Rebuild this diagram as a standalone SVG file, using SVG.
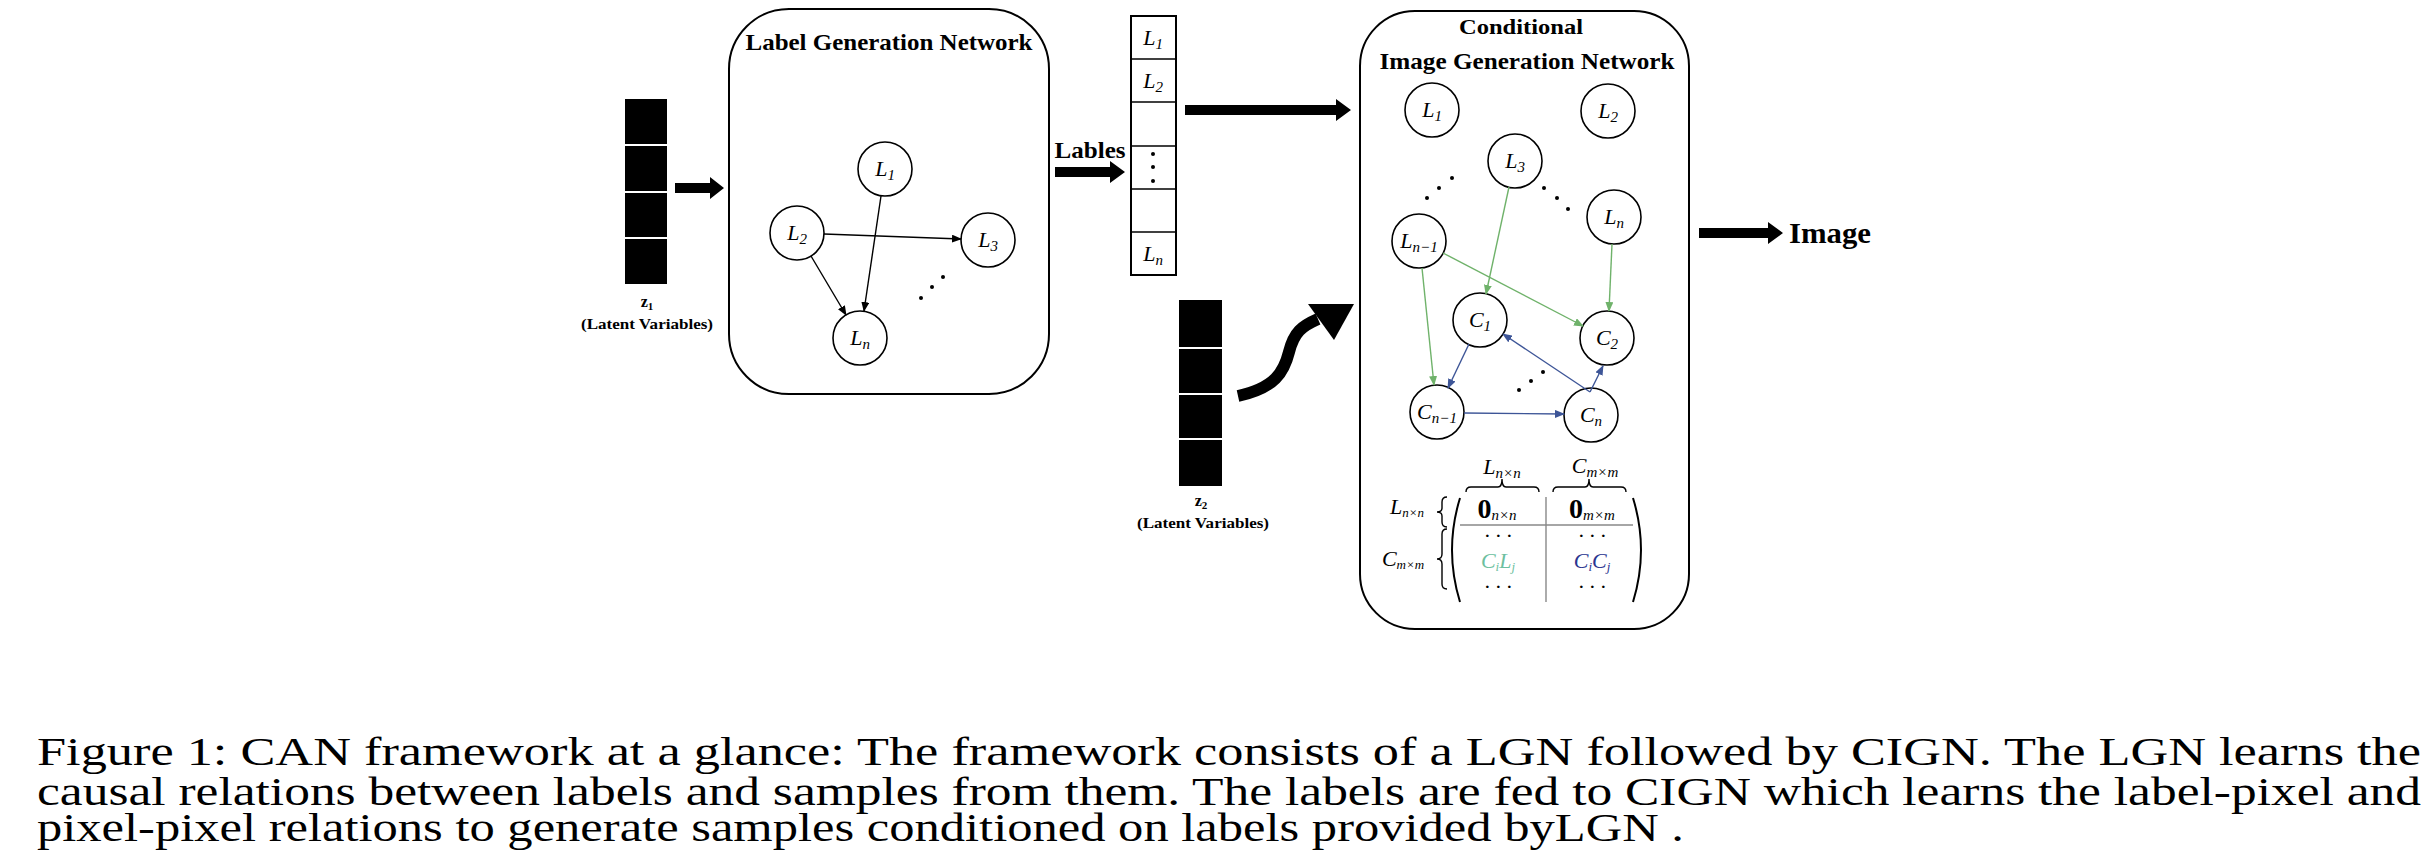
<svg xmlns="http://www.w3.org/2000/svg" width="2434" height="850" viewBox="0 0 2434 850">
<style>
.box{fill:none;stroke:#000;stroke-width:2}
.nd{fill:#fff;stroke:#000;stroke-width:1.6}
.m{font-family:"Liberation Serif",serif;font-style:italic;font-size:22px;text-anchor:middle}
.s{font-size:15px}
.t{font-family:"Liberation Serif",serif;font-weight:bold;text-anchor:middle}
.cap{font-family:"Liberation Serif",serif;font-size:40px}
.e{stroke:#000;stroke-width:1.4;fill:none;marker-end:url(#ab)}
.g{stroke:#6fb26a;stroke-width:1.4;fill:none;marker-end:url(#ag)}
.b{stroke:#3d5597;stroke-width:1.4;fill:none;marker-end:url(#abl)}
.dot{fill:#000}
</style>
<defs>
<marker id="ab" markerWidth="10" markerHeight="8" refX="9" refY="4" orient="auto" markerUnits="userSpaceOnUse"><path d="M0,0 L10,4 L0,8 z" fill="#000"/></marker>
<marker id="ag" markerWidth="10" markerHeight="8" refX="9" refY="4" orient="auto" markerUnits="userSpaceOnUse"><path d="M0,0 L10,4 L0,8 z" fill="#6fb26a"/></marker>
<marker id="abl" markerWidth="10" markerHeight="8" refX="9" refY="4" orient="auto" markerUnits="userSpaceOnUse"><path d="M0,0 L10,4 L0,8 z" fill="#3d5597"/></marker>
</defs>
<rect width="2434" height="850" fill="#fff"/>

<g id="z1">
<rect x="625" y="99" width="42" height="185" fill="#000"/>
<g stroke="#fff" stroke-width="2"><line x1="625" y1="145" x2="667" y2="145"/><line x1="625" y1="192" x2="667" y2="192"/><line x1="625" y1="238" x2="667" y2="238"/></g>
<text class="t" x="647" y="307" font-size="16">z<tspan font-size="11" dy="3">1</tspan></text>
<text class="t" x="647" y="329" font-size="15" textLength="132" lengthAdjust="spacingAndGlyphs">(Latent Variables)</text>
</g>

<g id="lgn">
<rect class="box" x="729" y="9" width="320" height="385" rx="60"/>
<text class="t" x="889" y="50" font-size="23" textLength="287" lengthAdjust="spacingAndGlyphs">Label Generation Network</text>
</g>
<g id="lgnL1"><circle class="nd" cx="885" cy="169" r="27"/><text class="m" x="885" y="176">L<tspan class="s" dy="4">1</tspan></text></g>
<g id="lgnL2"><circle class="nd" cx="797" cy="233" r="27"/><text class="m" x="797" y="240">L<tspan class="s" dy="4">2</tspan></text></g>
<g id="lgnL3"><circle class="nd" cx="988" cy="240" r="27"/><text class="m" x="988" y="247">L<tspan class="s" dy="4">3</tspan></text></g>
<g id="lgnLn"><circle class="nd" cx="860" cy="338" r="27"/><text class="m" x="860" y="345">L<tspan class="s" dy="4">n</tspan></text></g>
<g class="dot"><circle cx="943" cy="277" r="2"/><circle cx="932" cy="287" r="2"/><circle cx="921" cy="298" r="2"/></g>

<g id="labels">
<rect class="box" x="1131" y="16" width="45" height="259" stroke-width="1.6"/>
<g stroke="#000" stroke-width="1.6"><line x1="1131" y1="59" x2="1176" y2="59"/><line x1="1131" y1="102" x2="1176" y2="102"/><line x1="1131" y1="146" x2="1176" y2="146"/><line x1="1131" y1="189" x2="1176" y2="189"/><line x1="1131" y1="232" x2="1176" y2="232"/></g>
<text class="m" x="1153" y="45">L<tspan class="s" dy="4">1</tspan></text>
<text class="m" x="1153" y="88">L<tspan class="s" dy="4">2</tspan></text>
<text class="m" x="1153" y="261">L<tspan class="s" dy="4">n</tspan></text>
<g class="dot"><circle cx="1153" cy="154" r="2"/><circle cx="1153" cy="167" r="2"/><circle cx="1153" cy="181" r="2"/></g>
<text class="t" x="1090" y="158" font-size="23" textLength="71" lengthAdjust="spacingAndGlyphs">Lables</text>
</g>

<g id="z2">
<rect x="1179" y="300" width="43" height="186" fill="#000"/>
<g stroke="#fff" stroke-width="2"><line x1="1179" y1="348" x2="1222" y2="348"/><line x1="1179" y1="394" x2="1222" y2="394"/><line x1="1179" y1="439" x2="1222" y2="439"/></g>
<text class="t" x="1201" y="506" font-size="16">z<tspan font-size="11" dy="3">2</tspan></text>
<text class="t" x="1203" y="528" font-size="15" textLength="132" lengthAdjust="spacingAndGlyphs">(Latent Variables)</text>
</g>

<g id="cign">
<rect class="box" x="1360" y="11" width="329" height="618" rx="55"/>
<text class="t" x="1521" y="34" font-size="22" textLength="124" lengthAdjust="spacingAndGlyphs">Conditional</text>
<text class="t" x="1527" y="69" font-size="23" textLength="295" lengthAdjust="spacingAndGlyphs">Image Generation Network</text>
</g>
<g id="cL1"><circle class="nd" cx="1432" cy="110" r="27"/><text class="m" x="1432" y="117">L<tspan class="s" dy="4">1</tspan></text></g>
<g id="cL2"><circle class="nd" cx="1608" cy="111" r="27"/><text class="m" x="1608" y="118">L<tspan class="s" dy="4">2</tspan></text></g>
<g id="cL3"><circle class="nd" cx="1515" cy="161" r="27"/><text class="m" x="1515" y="168">L<tspan class="s" dy="4">3</tspan></text></g>
<g id="cLn"><circle class="nd" cx="1614" cy="217" r="27"/><text class="m" x="1614" y="224">L<tspan class="s" dy="4">n</tspan></text></g>
<g id="cLn1"><circle class="nd" cx="1419" cy="241" r="27"/><text class="m" x="1419" y="248" font-size="20">L<tspan class="s" dy="4">n−1</tspan></text></g>
<g id="cC1"><circle class="nd" cx="1480" cy="320" r="27"/><text class="m" x="1480" y="327">C<tspan class="s" dy="4">1</tspan></text></g>
<g id="cC2"><circle class="nd" cx="1607" cy="338" r="27"/><text class="m" x="1607" y="345">C<tspan class="s" dy="4">2</tspan></text></g>
<g id="cCn1"><circle class="nd" cx="1437" cy="412" r="27"/><text class="m" x="1437" y="419" font-size="20">C<tspan class="s" dy="4">n−1</tspan></text></g>
<g id="cCn"><circle class="nd" cx="1591" cy="415" r="27"/><text class="m" x="1591" y="422">C<tspan class="s" dy="4">n</tspan></text></g>
<g class="dot">
<circle cx="1427" cy="198" r="2"/><circle cx="1439" cy="188" r="2"/><circle cx="1452" cy="178" r="2"/>
<circle cx="1544" cy="188" r="2"/><circle cx="1557" cy="198" r="2"/><circle cx="1568" cy="209" r="2"/>
<circle cx="1519" cy="390" r="2"/><circle cx="1531" cy="381" r="2"/><circle cx="1543" cy="372" r="2"/>
</g>

<g id="matrix">
<text class="m" x="1502" y="474" font-size="20">L<tspan class="s" dy="4">n×n</tspan></text>
<text class="m" x="1595" y="473" font-size="20">C<tspan class="s" dy="4">m×m</tspan></text>
<path d="M1466,492 q0,-5 5,-5 h27 q4,0 4,-8 q0,8 4,8 h28 q5,0 5,5" fill="none" stroke="#000" stroke-width="1.4"/>
<path d="M1553,492 q0,-5 5,-5 h27 q4,0 4,-8 q0,8 4,8 h28 q5,0 5,5" fill="none" stroke="#000" stroke-width="1.4"/>
<text class="m" x="1407" y="514" font-size="18">L<tspan font-size="13" dy="3">n×n</tspan></text>
<text class="m" x="1403" y="566" font-size="19">C<tspan font-size="13" dy="3">m×m</tspan></text>
<path d="M1447,497 q-5,0 -5,5 v6 q0,4 -5,4 q5,0 5,4 v6 q0,5 5,5" fill="none" stroke="#000" stroke-width="1.4"/>
<path d="M1447,529 q-5,0 -5,5 v20 q0,5 -5,5 q5,0 5,5 v20 q0,5 5,5" fill="none" stroke="#000" stroke-width="1.4"/>
<path d="M1460,498 q-16,52 0,104" fill="none" stroke="#000" stroke-width="2"/>
<path d="M1633,498 q16,52 0,104" fill="none" stroke="#000" stroke-width="2"/>
<line x1="1460" y1="525" x2="1633" y2="525" stroke="#888" stroke-width="1.4"/>
<line x1="1546" y1="497" x2="1546" y2="602" stroke="#888" stroke-width="1.4"/>
<text x="1497" y="518" font-family="Liberation Serif,serif" font-weight="bold" font-size="28" text-anchor="middle">0<tspan font-weight="normal" font-style="italic" font-size="15" dy="2">n×n</tspan></text>
<text x="1592" y="518" font-family="Liberation Serif,serif" font-weight="bold" font-size="28" text-anchor="middle">0<tspan font-weight="normal" font-style="italic" font-size="15" dy="2">m×m</tspan></text>
<text class="m" x="1498" y="543" font-size="16">· · ·</text>
<text class="m" x="1592" y="543" font-size="16">· · ·</text>
<text class="m" x="1498" y="568" font-size="21" fill="#6dbfa0">C<tspan font-size="13" dy="3">i</tspan><tspan dy="-3">L</tspan><tspan font-size="13" dy="3">j</tspan></text>
<text class="m" x="1592" y="568" font-size="21" fill="#2b3590">C<tspan font-size="13" dy="3">i</tspan><tspan dy="-3">C</tspan><tspan font-size="13" dy="3">j</tspan></text>
<text class="m" x="1498" y="594" font-size="16">· · ·</text>
<text class="m" x="1592" y="594" font-size="16">· · ·</text>
</g>

<g id="image"><text x="1789" y="243" font-family="Liberation Serif,serif" font-weight="bold" font-size="30" textLength="82" lengthAdjust="spacingAndGlyphs">Image</text></g>

<g id="connectors">
<line class="e" x1="881" y1="196" x2="864" y2="311"/>
<line class="e" x1="824" y1="234" x2="961" y2="239"/>
<line class="e" x1="811" y1="256" x2="846" y2="315"/>
<line class="g" x1="1509" y1="187" x2="1486" y2="294"/>
<line class="g" x1="1443" y1="253" x2="1583" y2="326"/>
<line class="g" x1="1612" y1="244" x2="1609" y2="311"/>
<line class="g" x1="1422" y1="268" x2="1434" y2="385"/>
<line class="b" x1="1469" y1="344" x2="1448" y2="388"/>
<line class="b" x1="1464" y1="413" x2="1564" y2="414"/>
<line class="b" x1="1590" y1="392" x2="1503" y2="334"/>
<line class="b" x1="1590" y1="392" x2="1603" y2="366"/>
<polygon points="675,183 710,183 710,177 724,188 710,199 710,193 675,193"/>
<polygon points="1055,167 1110,167 1110,161 1125,172 1110,183 1110,177 1055,177"/>
<polygon points="1185,105 1336,105 1336,99 1351,110 1336,121 1336,115 1185,115"/>
<polygon points="1699,228 1768,228 1768,222 1783,233 1768,244 1768,238 1699,238"/>
<path d="M1238,396 C1275,388 1284,372 1289,352 C1294,332 1302,326 1318,319" fill="none" stroke="#000" stroke-width="12"/>
<polygon points="1354,304 1334,340 1308,304"/>
</g>

<g id="caption" class="cap">
<text x="37" y="765" textLength="2384" lengthAdjust="spacingAndGlyphs">Figure 1: CAN framework at a glance: The framework consists of a LGN followed by CIGN. The LGN learns the</text>
<text x="37" y="805" textLength="2384" lengthAdjust="spacingAndGlyphs">causal relations between labels and samples from them. The labels are fed to CIGN which learns the label-pixel and</text>
<text x="37" y="841" textLength="1647" lengthAdjust="spacingAndGlyphs">pixel-pixel relations to generate samples conditioned on labels provided byLGN .</text>
</g>
</svg>
